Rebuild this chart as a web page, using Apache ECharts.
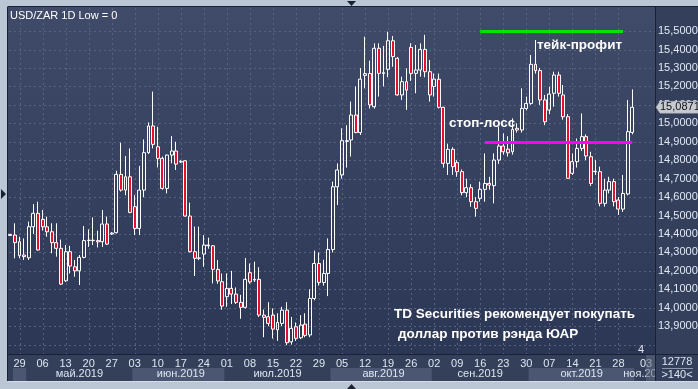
<!DOCTYPE html>
<html><head><meta charset="utf-8">
<script src="https://cdn.jsdelivr.net/npm/echarts@6/dist/echarts.min.js"></script>
<style>html,body{margin:0;padding:0;background:#bcc7d6;overflow:hidden}#c{width:698px;height:389px}</style>
</head><body><div id="c"></div>
<script>
// ---- categories (trading days, USD/ZAR 1D) ----
const dates = [
'2019-04-25','2019-04-26','2019-04-29','2019-04-30',
'2019-05-01','2019-05-02','2019-05-03','2019-05-06','2019-05-07','2019-05-08','2019-05-09','2019-05-10','2019-05-13','2019-05-14','2019-05-15','2019-05-16','2019-05-17','2019-05-20','2019-05-21','2019-05-22','2019-05-23','2019-05-24','2019-05-27','2019-05-28','2019-05-29','2019-05-30','2019-05-31',
'2019-06-03','2019-06-04','2019-06-05','2019-06-06','2019-06-07','2019-06-10','2019-06-11','2019-06-12','2019-06-13','2019-06-14','2019-06-17','2019-06-18','2019-06-19','2019-06-20','2019-06-21','2019-06-24','2019-06-25','2019-06-26','2019-06-27','2019-06-28',
'2019-07-01','2019-07-02','2019-07-03','2019-07-04','2019-07-05','2019-07-08','2019-07-09','2019-07-10','2019-07-11','2019-07-12','2019-07-15','2019-07-16','2019-07-17','2019-07-18','2019-07-19','2019-07-22','2019-07-23','2019-07-24','2019-07-25','2019-07-26','2019-07-29','2019-07-30','2019-07-31',
'2019-08-01','2019-08-02','2019-08-05','2019-08-06','2019-08-07','2019-08-08','2019-08-09','2019-08-12','2019-08-13','2019-08-14','2019-08-15','2019-08-16','2019-08-19','2019-08-20','2019-08-21','2019-08-22','2019-08-23','2019-08-26','2019-08-27','2019-08-28','2019-08-29','2019-08-30',
'2019-09-02','2019-09-03','2019-09-04','2019-09-05','2019-09-06','2019-09-09','2019-09-10','2019-09-11','2019-09-12','2019-09-13','2019-09-16','2019-09-17','2019-09-18','2019-09-19','2019-09-20','2019-09-23','2019-09-24','2019-09-25','2019-09-26','2019-09-27','2019-09-30',
'2019-10-01','2019-10-02','2019-10-03','2019-10-04','2019-10-07','2019-10-08','2019-10-09','2019-10-10','2019-10-11','2019-10-14','2019-10-15','2019-10-16','2019-10-17','2019-10-18','2019-10-21','2019-10-22','2019-10-23','2019-10-24','2019-10-25','2019-10-28','2019-10-29','2019-10-30','2019-10-31',
'2019-11-01','2019-11-04','2019-11-05','2019-11-06'
];
// ---- series values ----
const openV = [14.392,14.394,14.358,14.286,14.271,14.439,14.512,14.479,14.439,14.412,14.353,14.322,14.146,14.304,14.222,14.200,14.273,14.364,14.366,14.364,14.358,14.454,14.400,14.407,14.723,14.638,14.710,14.548,14.430,14.638,14.841,14.986,14.873,14.810,14.647,14.828,14.850,14.790,14.797,14.497,14.304,14.268,14.291,14.340,14.336,14.208,14.141,14.060,14.105,14.074,14.029,14.002,14.190,14.150,14.154,13.960,13.951,13.960,13.880,13.915,13.987,13.815,13.897,13.837,13.911,13.852,14.050,14.240,14.137,14.186,14.316,14.656,14.720,14.906,14.910,15.045,14.950,15.260,15.270,15.090,15.407,15.270,15.293,15.448,15.353,15.154,15.226,15.412,15.271,15.289,15.401,15.280,15.200,15.239,15.087,14.783,14.859,14.787,14.738,14.624,14.651,14.575,14.593,14.642,14.674,14.662,14.801,14.877,14.860,14.846,14.973,14.964,15.081,15.108,15.320,15.286,15.127,15.072,15.163,15.262,15.154,15.036,14.729,14.792,14.864,14.928,14.819,14.738,14.738,14.566,14.638,14.684,14.584,14.535,14.617,14.951];
const highV = [14.400,14.458,14.385,14.376,14.467,14.562,14.575,14.530,14.494,14.458,14.458,14.370,14.340,14.336,14.259,14.286,14.443,14.425,14.490,14.418,14.530,14.494,14.410,14.743,14.895,14.823,14.864,14.611,14.769,14.913,15.005,15.172,14.982,14.820,14.830,14.931,14.900,14.800,14.800,14.570,14.440,14.440,14.394,14.380,14.340,14.259,14.186,14.186,14.200,14.110,14.070,14.270,14.240,14.250,14.220,13.990,14.030,13.996,13.970,14.005,14.030,13.950,13.920,13.960,13.970,14.100,14.310,14.300,14.260,14.376,14.684,14.783,14.973,14.990,15.118,15.200,15.300,15.470,15.340,15.434,15.434,15.420,15.497,15.474,15.360,15.253,15.298,15.434,15.425,15.434,15.480,15.344,15.270,15.270,15.090,14.890,14.870,14.800,14.750,14.700,14.670,14.600,14.684,14.837,14.710,14.837,14.982,14.946,14.930,15.027,15.000,15.190,15.145,15.371,15.452,15.300,15.154,15.199,15.280,15.280,15.208,15.050,14.837,14.918,15.054,14.940,14.846,14.800,14.765,14.700,14.710,14.700,14.600,14.720,15.127,15.184];
const lowV = [14.390,14.268,14.268,14.259,14.259,14.400,14.310,14.418,14.385,14.295,14.277,14.123,14.140,14.186,14.168,14.123,14.268,14.330,14.340,14.327,14.330,14.340,14.395,14.403,14.630,14.610,14.512,14.394,14.394,14.599,14.834,14.864,14.761,14.640,14.620,14.783,14.747,14.785,14.494,14.300,14.172,14.258,14.222,14.320,14.132,14.130,13.989,14.005,14.020,14.020,13.940,13.996,14.130,14.140,13.950,13.840,13.900,13.833,13.820,13.900,13.797,13.800,13.820,13.830,13.840,13.840,14.040,14.120,14.120,14.063,14.300,14.557,14.700,14.760,14.820,14.946,14.937,15.190,15.080,15.080,15.145,15.200,15.250,15.307,15.150,15.127,15.073,15.230,15.163,15.253,15.250,15.118,15.145,15.080,14.760,14.720,14.720,14.710,14.610,14.600,14.548,14.494,14.575,14.575,14.640,14.566,14.780,14.830,14.820,14.830,14.950,14.950,15.070,15.100,15.270,15.100,14.990,15.050,15.090,15.145,15.020,14.700,14.720,14.760,14.850,14.800,14.660,14.720,14.550,14.548,14.620,14.550,14.503,14.520,14.610,14.940];
const closeV = [14.398,14.353,14.282,14.277,14.439,14.512,14.313,14.439,14.412,14.353,14.322,14.128,14.304,14.226,14.200,14.273,14.364,14.366,14.364,14.357,14.454,14.345,14.405,14.723,14.638,14.710,14.517,14.430,14.638,14.841,14.986,14.886,14.810,14.647,14.828,14.850,14.779,14.794,14.497,14.304,14.268,14.270,14.340,14.336,14.208,14.145,14.009,14.105,14.074,14.029,14.002,14.154,14.140,14.154,13.960,13.948,13.915,13.884,13.920,13.987,13.810,13.888,13.834,13.906,13.850,14.050,14.240,14.137,14.186,14.316,14.656,14.747,14.906,14.902,15.045,14.950,15.240,15.270,15.100,15.407,15.271,15.275,15.448,15.362,15.154,15.226,15.180,15.271,15.289,15.401,15.280,15.154,15.240,15.087,14.783,14.859,14.765,14.738,14.624,14.651,14.575,14.539,14.642,14.674,14.665,14.801,14.877,14.846,14.840,14.967,14.964,15.081,15.108,15.320,15.286,15.127,15.009,15.159,15.262,15.163,15.036,14.702,14.792,14.864,14.928,14.823,14.674,14.740,14.566,14.638,14.684,14.575,14.535,14.620,14.955,15.0871];
// ---- axis ticks ----
const yTicks = [13.9,14.0,14.1,14.2,14.3,14.4,14.5,14.6,14.7,14.8,14.9,15.0,15.1,15.2,15.3,15.4,15.5];
const yGrid = [13.8,13.9,14.0,14.1,14.2,14.3,14.4,14.5,14.6,14.7,14.8,14.9,15.0,15.1,15.2,15.3,15.4,15.5];
const tickIdx = [2,7,12,17,22,27,32,37,42,47,52,57,62,67,72,77,82,87,92,97,102,107,112,117,122,127,132,138];
const tickText = ['29','06','13','20','27','03','10','17','24','01','08','15','22','29','05','12','19','26','02','09','16','23','30','07','14','21','28','03'];
const monthStart = [0,4,27,47,70,92,113,136];
const monthEnd   = [3,26,46,69,91,112,135,139];
const monthLabelIdx = [-1,15,37,58,81,102,124,138];
const monthText = ['','май.2019','июн.2019','июл.2019','авг.2019','сен.2019','окт.2019','ноя.2019'];
const monthShade = [1,0,1,0,1,0,1,0];
// ---- levels ----
const takeProfit = 15.50, tpFrom = 102, tpTo = 133;
const stopLoss = 14.90, slFrom = 103, slTo = 135;
const lastPrice = 15.0871;
const barsCount = '12778', barsVisible = '>140<';

const FONT = '"Liberation Sans", Arial, sans-serif';
const candles = openV.map((o,i)=>[o, closeV[i], lowV[i], highV[i]]);
const tickMap = {}; tickIdx.forEach((t,k)=>tickMap[t]=tickText[k]);
const monMap = {}; monthLabelIdx.forEach((t,k)=>{ if(t>=0) monMap[t]=monthText[k]; });
const Y_MIN = 13.749, Y_MAX = 15.631;

const chart = echarts.init(document.getElementById('c'), null, {renderer:'canvas'});
const option = {
  animation:false,
  backgroundColor:'transparent',
  grid:{left:8, top:7, width:645, height:347, containLabel:false, outerBoundsMode:'none'},
  xAxis:[{
    type:'category', data:dates, boundaryGap:true, z:10,
    axisLine:{show:false}, axisTick:{show:false}, splitLine:{show:false},
    axisLabel:{interval:(i)=>tickMap[i]!==undefined, formatter:(v,i)=>tickMap[i]||'', color:'#dde5f1', fontSize:11, fontFamily:FONT, margin:4, hideOverlap:false}
  },{
    type:'category', data:dates, boundaryGap:true, position:'bottom', offset:13, z:5,
    axisLine:{show:false}, axisTick:{show:false}, splitLine:{show:false},
    axisLabel:{interval:(i)=>monMap[i]!==undefined, formatter:(v,i)=>monMap[i]||'', color:'#dde5f1', fontSize:11, fontFamily:FONT, margin:1, hideOverlap:false}
  }],
  yAxis:{
    type:'value', position:'right', min:Y_MIN, max:Y_MAX, z:10,
    axisLine:{show:false}, axisTick:{show:false}, splitLine:{show:false},
    axisLabel:{customValues:yTicks, formatter:(v)=>v.toFixed(5).replace('.',','), color:'#e2e9f4', fontSize:11, fontFamily:FONT, margin:5, align:'left'}
  },
  series:[{
    type:'candlestick', data:candles, barWidth:3.4, z:3,
    itemStyle:{color:'rgba(0,0,0,0)', color0:'#e4102c', borderColor:'#ffffff', borderColor0:'#ffffff', borderWidth:1},
    markLine:{
      silent:true, symbol:['none','none'], label:{show:false}, animation:false,
      data:[
        [{coord:[dates[tpFrom], takeProfit], lineStyle:{color:'#00e600', width:3, type:'solid'}}, {coord:[dates[tpTo], takeProfit]}],
        [{coord:[dates[slFrom], stopLoss], lineStyle:{color:'#ff00ff', width:3, type:'solid'}}, {coord:[dates[slTo], stopLoss]}]
      ]
    }
  }]
};
chart.setOption(option);

const px = (i)=>chart.convertToPixel({xAxisIndex:0}, dates[i]);
const py = (v)=>chart.convertToPixel({yAxisIndex:0}, v);
const bw = px(1)-px(0);
const L=8, T=7, R=655, B=354, BB=381;
const g = [];
// plot background
g.push({type:'rect', z:0, shape:{x:L, y:T, width:R-L, height:B-T}, style:{fill:new echarts.graphic.LinearGradient(0,0,0,1,[{offset:0,color:'#3f4b69'},{offset:1,color:'#2c3756'}])}});
// axis panels
g.push({type:'rect', z:0, shape:{x:L, y:B, width:698-L, height:BB-B}, style:{fill:'#34405a'}});
monthStart.forEach((s,k)=>{
  const x0 = Math.max(px(s)-bw/2, 13), x1 = px(monthEnd[k])+bw/2;
  g.push({type:'rect', z:1, shape:{x:x0, y:368, width:x1-x0, height:BB-368}, style:{fill: monthShade[k]? '#4b5772':'#34405a'}});
});
// right panel (covers overflow)
g.push({type:'rect', z:6, shape:{x:R, y:T, width:698-R, height:BB-T}, style:{fill:'#34405b'}});
// grid lines
yGrid.forEach(v=>{ const y=Math.round(py(v))+0.5; g.push({type:'line', z:1, shape:{x1:L+1, y1:y, x2:R, y2:y}, style:{stroke:'#56627e', lineWidth:1, lineDash:[2,3]}}); });
tickIdx.slice(0,27).forEach(i=>{ const x=Math.round(px(i))+0.5; g.push({type:'line', z:1, shape:{x1:x, y1:T+1, x2:x, y2:B}, style:{stroke:'#56627e', lineWidth:1, lineDash:[2,3]}}); });
// frame lines
const fl = (x1,y1,x2,y2,c)=>g.push({type:'line', z:15, shape:{x1,y1,x2,y2}, style:{stroke:c||'#1a2132', lineWidth:1}});
fl(L-0.5,T-0.5,L-0.5,BB,'#1a2132');
fl(L,T-0.5,698,T-0.5);
fl(R+0.5,T,R+0.5,BB);
fl(L,B+0.5,698,B+0.5);
fl(L,BB+0.5,698,BB+0.5,'#d6dde7');
// last-date shade
g.push({type:'rect', z:12, shape:{x:646, y:B+1, width:R-646, height:BB-B-1}, style:{fill:'rgba(95,106,128,0.55)'}});
// window markers
g.push({type:'polygon', z:15, shape:{points:[[347,1],[356,1],[351.5,6]]}, style:{fill:'#1a2132'}});
g.push({type:'polygon', z:15, shape:{points:[[1,189],[1,199],[6,194]]}, style:{fill:'#1a2132'}});
g.push({type:'polygon', z:15, shape:{points:[[347,389],[356,389],[351.5,384]]}, style:{fill:'#1a2132'}});
// price tag
const yp = py(lastPrice);
g.push({type:'polygon', z:16, shape:{points:[[656,yp],[660,yp-6],[698,yp-6],[698,yp+6],[660,yp+6]]}, style:{fill:'#c7cad0', stroke:'#9aa0aa', lineWidth:0.5}});
g.push({type:'text', z:17, style:{text:lastPrice.toFixed(5).replace('.',','), x:660, y:yp, fill:'#111111', font:'11px '+FONT, textVerticalAlign:'middle'}});
// texts
const tx = (t,x,y,font,align)=>g.push({type:'text', z:20, style:{text:t, x, y, fill:'#ffffff', font, textAlign:align||'left', textVerticalAlign:'middle'}});
tx('USD/ZAR 1D Low = 0', 10, 15.5, '11px '+FONT);
tx('тейк-профит', 537, 45, 'bold 13.5px '+FONT);
tx('стоп-лосс', 449, 123, 'bold 13.5px '+FONT);
tx('TD Securities рекомендует покупать', 394, 314, 'bold 13.5px '+FONT);
tx('доллар против рэнда ЮАР', 398, 334, 'bold 13.5px '+FONT);
g.push({type:'polygon', z:15, shape:{points:[[628,351],[636,351],[632,347]]}, style:{fill:'#26304a'}});
g.push({type:'text', z:20, style:{text:'4', x:641, y:349.5, fill:'#dde5f1', font:'11px '+FONT, textAlign:'center', textVerticalAlign:'middle'}});
// corner cell
g.push({type:'text', z:20, style:{text:barsCount, x:677, y:361.5, fill:'#dde5f1', font:'11px '+FONT, textAlign:'center', textVerticalAlign:'middle'}});
g.push({type:'line', z:20, shape:{x1:662, y1:368.5, x2:693, y2:368.5}, style:{stroke:'#8d97aa', lineWidth:1}});
g.push({type:'text', z:20, style:{text:barsVisible, x:677, y:374.5, fill:'#dde5f1', font:'11px '+FONT, textAlign:'center', textVerticalAlign:'middle'}});
chart.setOption({graphic:{elements:g}});
</script></body></html>
